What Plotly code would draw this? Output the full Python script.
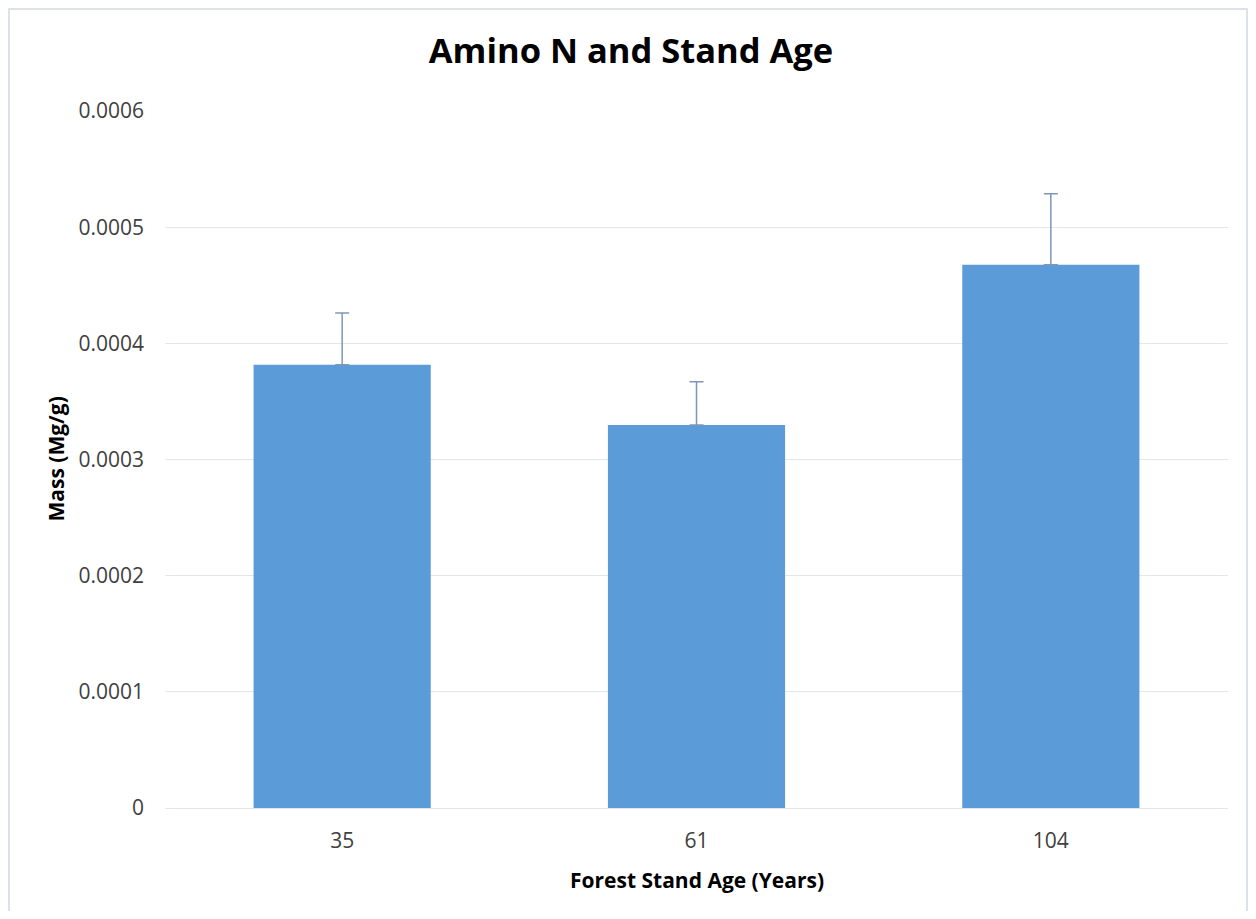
import plotly.graph_objects as go

categories = ["35", "61", "104"]
mass_values = [0.0003815, 0.0003296, 0.0004676]
error_values = [0.0000447, 0.0000373, 0.0000612]
y_ticks = [0, 0.0001, 0.0002, 0.0003, 0.0004, 0.0005, 0.0006]
y_tick_labels = ["0", "0.0001", "0.0002", "0.0003", "0.0004", "0.0005", "0.0006"]

FONT = "Open Sans, Lato, sans-serif"
W, H = 1240, 903
L, R, T, B = 157, 20, 103, 102.7
PW, PH = W - L - R, H - T - B

fig = go.Figure()
fig.add_trace(go.Bar(
    x=categories,
    y=mass_values,
    marker=dict(color="#5a9bd8", line=dict(width=0)),
    error_y=dict(type="data", array=error_values, symmetric=False,
                 arrayminus=[0, 0, 0], color="#8096b6", thickness=1.5, width=7),
))

fig.update_layout(
    width=W, height=H,
    margin=dict(l=L, r=R, t=T, b=B),
    paper_bgcolor="white", plot_bgcolor="white",
    bargap=0.5,
    showlegend=False,
    title=dict(text="<b>Amino N and Stand Age</b>", x=(631 - 8) / W, xanchor="center",
               y=1 - 43 / H, yanchor="middle",
               font=dict(family=FONT, size=34.5, color="black")),
    font=dict(family=FONT, color="#404040"),
    xaxis=dict(
        tickfont=dict(family=FONT, size=21, color="#404040"),
        showline=False, showgrid=False, ticks="", ticklabelstandoff=18,
    ),
    yaxis=dict(
        range=[0, 0.0006],
        tickvals=y_ticks, ticktext=y_tick_labels,
        tickfont=dict(family=FONT, size=21, color="#404040"),
        showgrid=True, gridcolor="#e3e6ea", gridwidth=1.3,
        zeroline=True, zerolinecolor="#e3e6ea", zerolinewidth=1.3,
        showline=False, ticks="", ticklabelstandoff=20,
    ),
    annotations=[
        dict(text="<b>Forest Stand Age (Years)</b>", xref="paper", yref="paper",
             x=0.5, y=(800.3 - 872) / PH, xanchor="center", yanchor="middle",
             showarrow=False, font=dict(family=FONT, size=21, color="black")),
        dict(text="<b>Mass (Mg/g)</b>", xref="paper", yref="paper",
             x=(47 - L) / PW, y=0.5, xanchor="center", yanchor="middle",
             textangle=-90, showarrow=False,
             font=dict(family=FONT, size=21, color="black")),
    ],
    shapes=[dict(type="rect", xref="paper", yref="paper",
                 x0=(1 - L) / PW, x1=(W - 1 - L) / PW,
                 y0=-0.2, y1=(800.3 - 1) / PH,
                 line=dict(color="#dde1e8", width=2), fillcolor="rgba(0,0,0,0)",
                 layer="below")],
)

fig.write_html("out.html")
